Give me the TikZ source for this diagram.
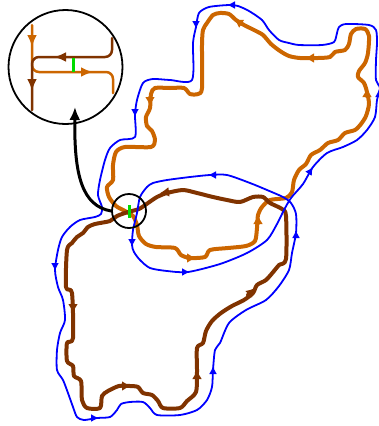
\documentclass[tikz,border=0pt]{standalone}
\usetikzlibrary{arrows.meta}
\definecolor{ochre}{RGB}{204,102,0}
\definecolor{umber}{RGB}{128,51,0}
\definecolor{signal}{RGB}{0,220,0}
\begin{document}
\begin{tikzpicture}[
        x=1pt, y=-1pt,
        line join=round,
        line cap=round,
        outer/.style ={ochre, line width=4pt},
        inner/.style ={umber, line width=4pt},
        loop/.style ={blue, line width=1.8pt},
        flow/.style ={-{Latex[length=9pt,width=10pt]}},
        bflow/.style ={-{Latex[length=8pt,width=8pt]}},
        thin/.style ={line width=2.5pt, rounded corners=7pt},
        small/.style ={-{Latex[length=12pt,width=10pt]}},
        ring/.style ={circle, draw=black, line width=1.8pt, inner sep=0pt},
    ]
    \useasboundingbox (0,0) rectangle (379,426);

    % light loop
    \draw[outer] plot[smooth cycle, tension=0.45] coordinates {
        (116,206) (125,211) (133,216) (137,225) (139,236) (146,244) (156,247)
        (175,248) (181,255) (190,258) (205,257) (210,250) (228,248) (246,246)
        (255,241) (257,228) (258,215) (262,207) (270,200) (286,198) (292,192)
        (294,180) (299,170) (306,164) (311,155) (320,150) (328,143) (338,140)
        (345,133) (355,130) (361,124) (366,116) (369,104) (367,92) (364,83)
        (358,77) (359,71) (365,63) (368,53) (369,36) (365,29) (356,29) (351,34)
        (349,44) (345,50) (335,52) (330,57) (318,58) (300,58) (289,56) (280,51)
        (271,44) (263,35) (254,30) (244,25) (236,20) (229,14) (220,13) (213,15)
        (207,23) (203,30) (202,45) (202,88) (198,94) (190,94) (184,88) (170,88)
        (155,88) (151,94) (150,108) (146,117) (147,126) (152,131) (155,140)
        (151,147) (125,147) (116,152) (113,165) (113,180) (107,187) (109,197)};

    % dark loop
    \draw[inner] plot[smooth cycle, tension=0.45] coordinates {
        (157,197) (148,203) (139,209) (128,212) (117,216) (110,221) (95,224)
        (88,227) (83,233) (77,237) (72,243) (67,250) (66,287) (72,293) (73,338)
        (67,343) (67,361) (73,366) (74,376) (81,381) (82,400) (87,408) (100,408)
        (102,396) (108,391) (119,386) (130,386) (138,387) (143,393) (152,395)
        (158,401) (163,408) (180,408) (187,401) (196,392) (197,372) (197,348)
        (203,343) (206,331) (212,321) (221,313) (232,306) (244,300) (253,293)
        (257,285) (266,280) (274,271) (279,265) (286,259) (286,216) (282,209)
        (270,203) (263,197) (253,197) (240,202) (227,200) (213,197) (197,193)
        (183,190) (167,193)};

    % outer route
    \draw[loop] plot[smooth cycle, tension=0.45] coordinates {
        (249,11) (238,6) (229,5) (209,7) (199,13) (196,27) (193,43) (192,80)
        (170,80) (153,79) (143,83) (137,100) (135,115) (135,137) (120,140)
        (110,148) (105,160) (100,180) (98,195) (102,207) (101,214) (95,217)
        (80,220) (70,227) (62,237) (58,250) (55,270) (58,287) (63,300) (65,320)
        (60,333) (57,350) (57,370) (63,380) (68,393) (73,407) (77,417) (84,420)
        (97,418) (110,417) (117,410) (121,404) (130,402) (143,402) (150,408)
        (157,415) (180,415) (197,410) (207,400) (212,387) (213,370) (215,350)
        (220,343) (229,323) (246,310) (266,300) (279,286) (289,270) (292,253)
        (296,233) (296,214) (291,203) (283,197) (267,190) (250,183) (227,175)
        (210,175) (190,177) (167,180) (153,183) (147,187) (140,197) (137,213)
        (133,230) (132,245) (134,252) (140,260) (150,268) (167,271) (188,272)
        (220,264) (247,253) (267,240) (277,224) (284,210) (291,198) (303,184)
        (313,167) (327,153) (343,147) (357,140) (367,130) (375,117) (377,100)
        (380,88) (376,80) (376,60) (377,43) (376,30) (369,25) (346,24) (339,27)
        (337,33) (334,42) (322,45) (299,45) (289,43) (279,40) (269,30) (262,20)};

    % arrows on the loops
    \draw[outer, flow] (150,99) -- (150,106);
    \draw[outer, flow] (188,258) -- (196,258);
    \draw[outer, flow] (258,223) -- (258,215);
    \draw[outer, flow] (367,96) -- (367,88);
    \draw[outer, flow] (313,58) -- (305,58);
    \draw[outer, flow] (242,24) -- (234,19);
    \draw[inner, flow] (168,192) -- (160,193);
    \draw[inner, flow] (248,295) -- (255,288);
    \draw[inner, flow] (197,378) -- (197,370);
    \draw[inner, flow] (123,386) -- (131,386);
    \draw[inner, flow] (73,305) -- (73,313);
    \draw[loop, bflow] (234,5) -- (227,5);
    \draw[loop, bflow] (196,22) -- (196,29);
    \draw[loop, bflow] (135,110) -- (135,117);
    \draw[loop, bflow] (55,264) -- (55,271);
    \draw[loop, bflow] (92,418) -- (99,418);
    \draw[loop, bflow] (213,373) -- (213,366);
    \draw[loop, bflow] (296,237) -- (296,230);
    \draw[loop, bflow] (215,175) -- (208,175);
    \draw[loop, bflow] (132,240) -- (132,247);
    \draw[loop, bflow] (183,272) -- (190,272);
    \draw[loop, bflow] (309,173) -- (313,167);
    \draw[loop, bflow] (379,96) -- (379,89);

    % touching point
    \draw[signal, line width=3pt, line cap=butt] (129,205) -- (129,218);
    \node[ring, minimum size=34pt] (spot) at (129,211) {};

    % magnified view
    \node[ring, minimum size=114pt] (lens) at (65.5,67) {};
    \draw[ochre, thin] (32,25) -- (32,72) -- (113,72) -- (113,93);
    \draw[umber, thin] (112,38) -- (112,57) -- (32,57) -- (32,110);
    \draw[ochre, line width=2.5pt, small] (32,38) -- (32,47);
    \draw[ochre, line width=2.5pt, small] (83,72) -- (93,72);
    \draw[umber, line width=2.5pt, small] (64,57) -- (54,57);
    \draw[umber, line width=2.5pt, small] (32,81) -- (32,91);
    \draw[signal, line width=3pt, line cap=butt] (73,58) -- (73,72);

    \coordinate (lensin) at (75,107);
    \draw[line width=3pt, -{Latex[length=13pt,width=11pt]}]
        (spot.west) .. controls (82,206) and (74,175) .. (lensin);
\end{tikzpicture}
\end{document}
